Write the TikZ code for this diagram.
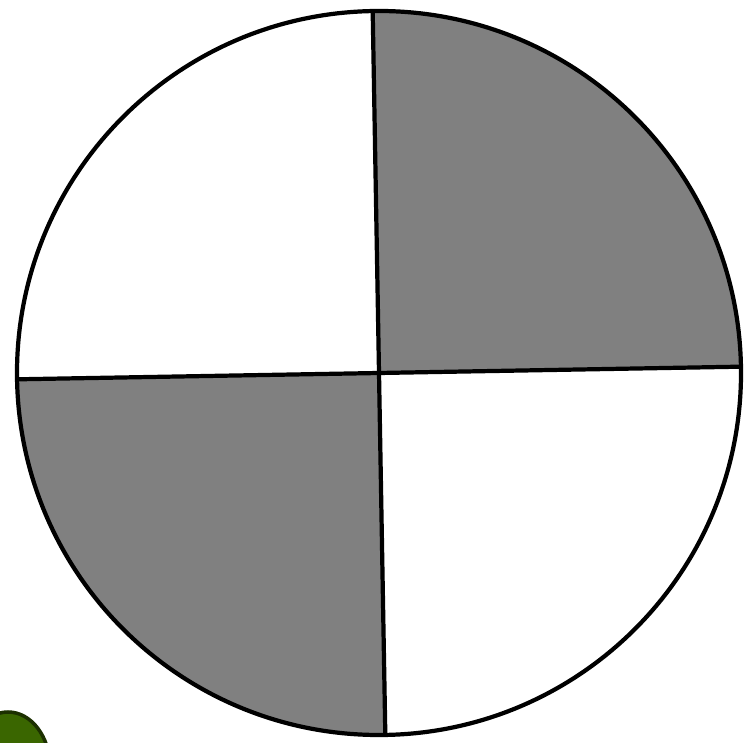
\documentclass[tikz,border=0pt]{standalone}
\usepackage{tikz}
\definecolor{quadgray}{RGB}{128,128,128}
\definecolor{blobgreen}{RGB}{58,102,0}
\definecolor{blobedge}{RGB}{28,48,0}

\begin{document}
\begin{tikzpicture}[
	quad/.style={fill=quadgray},
	rim/.style={draw=black, line width=1.2pt},
	blob/.style={fill=blobgreen, draw=blobedge, line width=1pt}
	]
	
	\useasboundingbox (0,0) rectangle (7.45,7.42);
	\coordinate (c) at (3.79,3.69);
	
	% green blob in the corner
	\begin{scope}
		\clip (0,0) rectangle (7.45,7.42);
		\draw[blob] (0.08,-0.25) ellipse (0.42 and 0.55);
	\end{scope}
	
	% shaded quadrants
	\fill[quad] (c) -- ++(1:3.62) arc (1:91:3.62) -- cycle;
	\fill[quad] (c) -- ++(181:3.62) arc (181:271:3.62) -- cycle;
	
	% cross and rim
	\draw[rim] (c) circle (3.62);
	\draw[rim] (c) ++(1:3.62) coordinate (e) -- ++(181:7.24) coordinate (w);
	\draw[rim] (c) ++(91:3.62) coordinate (n) -- ++(271:7.24) coordinate (s);
	
\end{tikzpicture}
\end{document}
